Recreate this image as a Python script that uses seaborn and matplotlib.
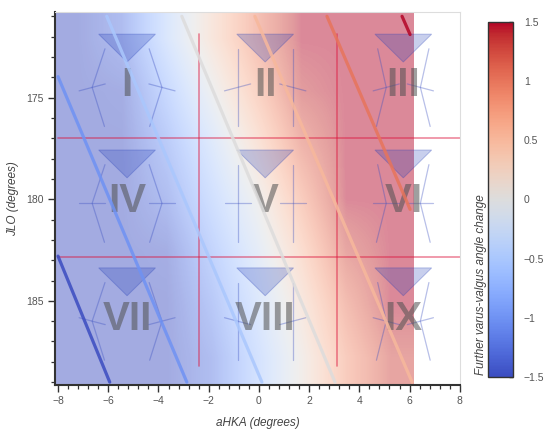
import numpy as np
import pandas as pd
import matplotlib
matplotlib.use("Agg")
import matplotlib.pyplot as plt
import seaborn as sns
from matplotlib.patches import Polygon
from matplotlib.colors import Normalize
from matplotlib.cm import ScalarMappable
from matplotlib.ticker import MultipleLocator

# -------------------------------
# data
# -------------------------------
# background field of predicted change, rows top (JLO 171) -> bottom (JLO 189),
# columns left (aHKA -8) -> right (aHKA 6)
field_extent_x = [-8.12, 6.15]
field_extent_y = [170.8, 189.1]
field = np.array([
    [-1.5, -1.23, -0.43, 0.29, 0.95, 1.5, 1.5, 1.5],
    [-1.5, -1.46, -0.75, -0.04, 0.67, 1.38, 1.5, 1.5],
    [-1.5, -1.5, -1.01, -0.37, 0.34, 1.11, 1.5, 1.5],
    [-1.5, -1.5, -1.21, -0.61, 0.0, 0.79, 1.5, 1.5],
    [-1.5, -1.5, -1.45, -0.85, -0.24, 0.49, 1.28, 1.5],
    [-1.5, -1.5, -1.5, -1.05, -0.42, 0.25, 1.0, 1.5],
    [-1.5, -1.5, -1.5, -1.21, -0.57, 0.08, 0.79, 1.3],
])

# iso-lines of the change
levels = [-1.5, -1.0, -0.5, 0.0, 0.5, 1.0, 1.5]
x_start = [-8.0, -8.0, -6.06, -3.07, -0.16, 2.71, 5.7]
y_start = [182.8, 173.97, 171.0, 171.0, 171.0, 171.0, 171.0]
x_end = [-5.94, -2.87, 0.12, 3.03, 6.1, 6.02, 6.02]
y_end = [189.0, 189.0, 189.0, 189.0, 189.0, 180.5, 171.9]

# phenotype boundaries
ahka_cuts = [-2.4, 3.1]
jlo_cuts = [177.0, 182.85]

# phenotype labels
numerals = ["I", "II", "III", "IV", "V", "VI", "VII", "VIII", "IX"]
col_x = [-5.25, 0.25, 5.75]
row_y = [174.4, 180.1, 185.9]

cb_ticks = [-1.5, -1, -0.5, 0, 0.5, 1, 1.5]
cb_labels = ["\u22121.5", "\u22121", "\u22120.5", "0", "0.5", "1", "1.5"]

# -------------------------------
# style
# -------------------------------
sns.set_theme(style="ticks")
plt.rcParams["font.family"] = ["Liberation Sans", "DejaVu Sans"]

fig = plt.figure(figsize=(5.5, 4.36), dpi=100)
ax = fig.add_axes([0.1, 0.117, 0.736, 0.855])

norm = Normalize(vmin=-1.5, vmax=1.5)

ax.imshow(field, cmap="coolwarm", norm=norm, alpha=0.47, interpolation="bilinear",
          extent=(field_extent_x[0], field_extent_x[1], field_extent_y[1], field_extent_y[0]),
          aspect="auto", origin="upper", zorder=1)

# boundaries
for xc in ahka_cuts:
    ax.plot([xc, xc], [171.85, 188.2], color="crimson", alpha=0.5, lw=1.2, zorder=2)
for yc in jlo_cuts:
    ax.plot([-8.0, 8.0], [yc, yc], color="crimson", alpha=0.5, lw=1.2, zorder=2)

# leg icons: (hip, knee, ankle) half widths per column
leg_shape = [(0.88, 1.39, 0.9), (1.1, 1.1, 1.1), (1.02, 0.68, 1.07)]
tilt = [0.17, 0.0, -0.17]
leg_col = "#3a4fc0"

for i, name in enumerate(numerals):
    r, c = divmod(i, 3)
    cx, cy = col_x[c], row_y[r]
    hip, knee, ank = leg_shape[c]
    ky = cy + 0.1
    tri = Polygon([[cx - 1.13, cy - 2.52], [cx + 1.13, cy - 2.52], [cx, cy - 1.15]],
                  closed=True, facecolor=(0.15, 0.25, 0.72, 0.25),
                  edgecolor=(0.15, 0.25, 0.72, 0.3), lw=0.7, zorder=3)
    ax.add_patch(tri)
    for s in (-1, 1):
        ax.plot([cx + s * hip, cx + s * knee, cx + s * ank], [cy - 1.8, ky, cy + 2.02],
                color=leg_col, alpha=0.36, lw=0.9, zorder=3)
        kx = cx + s * knee
        ax.plot([kx - 0.52, kx + 0.52], [ky - s * tilt[r], ky + s * tilt[r]],
                color=leg_col, alpha=0.36, lw=0.9, zorder=3)
    ax.text(cx, cy, name, ha="center", va="center", fontsize=29, fontweight="bold",
            color="#505050", alpha=0.55, zorder=4)

# iso-lines
rows = []
for lv, xs, ys, xe, ye in zip(levels, x_start, y_start, x_end, y_end):
    rows.append((lv, xs, ys))
    rows.append((lv, xe, ye))
seg = pd.DataFrame(rows, columns=["level", "x", "y"])
sns.lineplot(data=seg, x="x", y="y", hue="level", units="level", estimator=None,
             sort=False, palette="coolwarm", hue_norm=(-1.5, 1.5), legend=False,
             lw=2.3, alpha=0.85, ax=ax, zorder=6)

# axes
ax.set_xlim(-8.12, 8.0)
ax.set_ylim(189.14, 170.8)
ax.xaxis.set_major_locator(MultipleLocator(2))
ax.xaxis.set_minor_locator(MultipleLocator(0.4))
ax.yaxis.set_major_locator(MultipleLocator(5))
ax.yaxis.set_minor_locator(MultipleLocator(1))
ax.tick_params(which="major", length=5, width=1, color="#333333", labelsize=7.5,
               labelcolor="#555555", pad=3)
ax.tick_params(which="minor", length=3, width=0.9, color="#333333")
for side in ("top", "right"):
    ax.spines[side].set_color("#dddddd")
    ax.spines[side].set_linewidth(0.8)
for side in ("left", "bottom"):
    ax.spines[side].set_color("#333333")
    ax.spines[side].set_linewidth(1.5)
ax.set_xlabel("aHKA (degrees)", fontstyle="italic", fontsize=8.5, color="#444444", labelpad=8)
ax.set_ylabel("JLO (degrees)", fontstyle="italic", fontsize=8.5, color="#444444", labelpad=5)

# colorbar
cax = fig.add_axes([0.887, 0.135, 0.045, 0.815])
sm = ScalarMappable(norm=norm, cmap="coolwarm")
cb = fig.colorbar(sm, cax=cax)
cb.set_ticks(cb_ticks)
cb.set_ticklabels(cb_labels)
cb.outline.set_edgecolor("#333333")
cb.outline.set_linewidth(1.0)
cax.tick_params(direction="in", length=3, width=1, color="#333333", labelsize=7.5,
                labelcolor="#555555", pad=8)
fig.text(0.8745, 0.14, "Further varus-valgus angle change", rotation=90, ha="center",
         va="bottom", fontstyle="italic", fontsize=8.5, color="#444444")

fig.savefig("out.png", dpi=100, facecolor="white")
